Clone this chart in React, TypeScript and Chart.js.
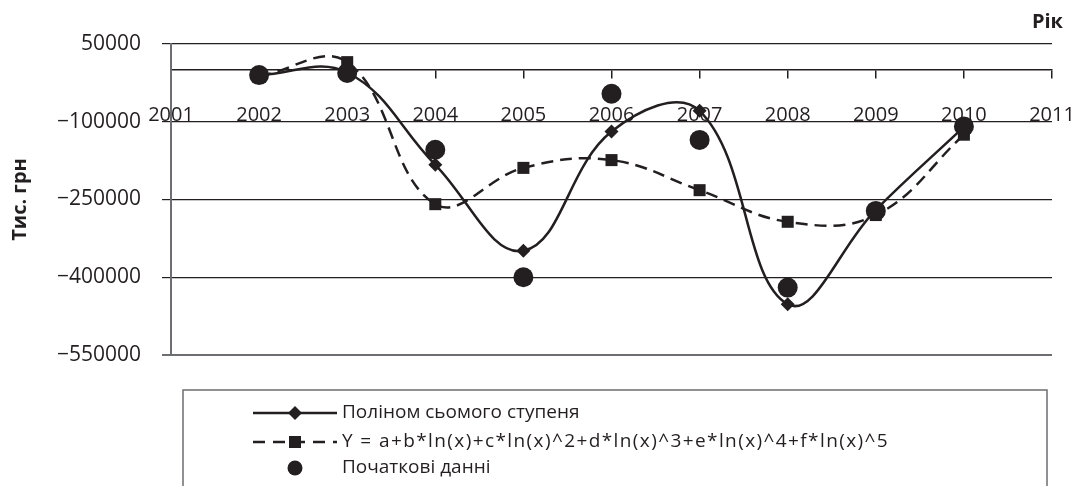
import React, { useEffect, useRef } from 'react';
import { Chart, registerables } from 'chart.js';

Chart.register(...registerables);

const years = [2002, 2003, 2004, 2005, 2006, 2007, 2008, 2009, 2010];
const xTickYears = [2001, 2002, 2003, 2004, 2005, 2006, 2007, 2008, 2009, 2010, 2011];
const yTickValues = [-550000, -400000, -250000, -100000, 50000];

const polyValues = [-10000, -5000, -183000, -349000, -119000, -79000, -452000, -270000, -110000];
const logPolyValues = [-12000, 15000, -259000, -189000, -174000, -232000, -293000, -280000, -125000];
const initialValues = [-10000, -6000, -154000, -400000, -46000, -135000, -420000, -272000, -109000];

const seriesNames = [
  'Поліном сьомого ступеня',
  'Y = a+b*ln(x)+c*ln(x)^2+d*ln(x)^3+e*ln(x)^4+f*ln(x)^5',
  'Початкові данні',
];
const yTitle = 'Тис. грн';
const xTitle = 'Рік';

const INK = '#231f20';
const GREY = '#6d6e71';
const FONT = '"Open Sans", "Noto Sans", sans-serif';

const toPoints = (vals: number[]) => years.map((y, i) => ({ x: y, y: vals[i] }));

const boxLegend = {
  id: 'boxLegend',
  afterDraw(chart: any) {
    const ctx = chart.ctx as CanvasRenderingContext2D;
    ctx.save();
    // x title
    ctx.fillStyle = INK;
    ctx.font = `bold 20px ${FONT}`;
    ctx.textAlign = 'right';
    ctx.textBaseline = 'middle';
    ctx.fillText(xTitle, 1063, 22);

    // legend box
    ctx.strokeStyle = GREY;
    ctx.lineWidth = 1.5;
    ctx.strokeRect(183, 390, 864, 120);

    const x0 = 253, x1 = 337, mx = 295;
    const rows = [413, 442, 468];
    ctx.strokeStyle = INK;
    ctx.fillStyle = INK;
    ctx.lineWidth = 2.5;
    // row 1: solid + diamond
    ctx.setLineDash([]);
    ctx.beginPath();
    ctx.moveTo(x0, rows[0]);
    ctx.lineTo(x1, rows[0]);
    ctx.stroke();
    ctx.beginPath();
    ctx.moveTo(mx, rows[0] - 7);
    ctx.lineTo(mx + 7, rows[0]);
    ctx.lineTo(mx, rows[0] + 7);
    ctx.lineTo(mx - 7, rows[0]);
    ctx.closePath();
    ctx.fill();
    // row 2: dashed + square
    ctx.setLineDash([12, 8]);
    ctx.beginPath();
    ctx.moveTo(x0, rows[1]);
    ctx.lineTo(x1, rows[1]);
    ctx.stroke();
    ctx.setLineDash([]);
    ctx.fillRect(mx - 6, rows[1] - 6, 12, 12);
    // row 3: circle
    ctx.beginPath();
    ctx.arc(mx, rows[2], 7.5, 0, Math.PI * 2);
    ctx.fill();

    ctx.font = `19px ${FONT}`;
    ctx.textAlign = 'left';
    ctx.textBaseline = 'middle';
    seriesNames.forEach((name, i) => {
      (ctx as any).letterSpacing = i === 1 ? '1.4px' : '0px';
      ctx.fillText(name, 342, rows[i]);
    });
    (ctx as any).letterSpacing = '0px';
    ctx.restore();
  },
};

export default function App() {
  const canvasRef = useRef<HTMLCanvasElement | null>(null);

  useEffect(() => {
    if (!canvasRef.current) return;
    const chart = new Chart(canvasRef.current, {
      type: 'line',
      data: {
        datasets: [
          {
            label: seriesNames[2],
            data: toPoints(initialValues),
            showLine: false,
            pointStyle: 'circle',
            pointRadius: 10,
            backgroundColor: INK,
            borderColor: INK,
            borderWidth: 0,
          },
          {
            label: seriesNames[0],
            data: toPoints(polyValues),
            borderColor: INK,
            backgroundColor: INK,
            borderWidth: 2.5,
            tension: 0.4,
            pointStyle: 'rectRot',
            pointRadius: 7,
            pointBorderWidth: 0,
            fill: false,
          },
          {
            label: seriesNames[1],
            data: toPoints(logPolyValues),
            borderColor: INK,
            backgroundColor: INK,
            borderWidth: 2.5,
            borderDash: [12, 7],
            tension: 0.4,
            pointStyle: 'rect',
            pointRadius: 8.5,
            pointBorderWidth: 0,
            fill: false,
          },
        ],
      },
      options: {
        animation: false,
        responsive: false,
        devicePixelRatio: 1,
        layout: { padding: { left: 0, right: 19, top: 44, bottom: 131 } },
        plugins: {
          legend: { display: false },
          tooltip: { enabled: false },
        },
        scales: {
          x: {
            type: 'linear',
            min: 2001,
            max: 2011,
            position: { y: 0 },
            afterBuildTicks: (scale: any) => {
              scale.ticks = xTickYears.map((v) => ({ value: v }));
            },
            afterFit: (scale: any) => {
              scale.height = 0;
              scale.paddingLeft = 0;
              scale.paddingRight = 0;
            },
            ticks: {
              autoSkip: false,
              maxRotation: 0,
              padding: 25,
              color: INK,
              font: { family: FONT, size: 20 },
              callback: (v: any) => String(v),
            },
            grid: {
              display: true,
              drawOnChartArea: false,
              drawTicks: true,
              tickLength: 8,
              color: INK,
              lineWidth: 1.5,
            },
            border: { display: true, color: INK, width: 1.5 },
          },
          y: {
            type: 'linear',
            min: -550000,
            max: 50000,
            afterBuildTicks: (scale: any) => {
              scale.ticks = yTickValues.map((v) => ({ value: v }));
            },
            afterFit: (scale: any) => {
              scale.width = 171;
            },
            ticks: {
              padding: 21,
              color: INK,
              font: { family: FONT, size: 21 },
              callback: (v: any) => String(v).replace('-', '\u2212'),
            },
            grid: {
              drawTicks: true,
              tickLength: 9,
              color: (c: any) => (c.tick && c.tick.value === -550000 ? GREY : INK),
              lineWidth: (c: any) => (c.tick && c.tick.value === -550000 ? 2 : 1.2),
            },
            border: { display: true, color: GREY, width: 2 },
            title: {
              display: true,
              text: yTitle,
              color: INK,
              font: { family: FONT, size: 20, weight: 'bold' },
              padding: { top: 8, bottom: 0 },
            },
          },
        },
      },
      plugins: [boxLegend],
    });
    return () => chart.destroy();
  }, []);

  return (
    <div style={{ position: 'absolute', left: 0, top: 0, width: 1071, height: 486, background: '#fff' }}>
      <canvas ref={canvasRef} width={1071} height={486} />
    </div>
  );
}
